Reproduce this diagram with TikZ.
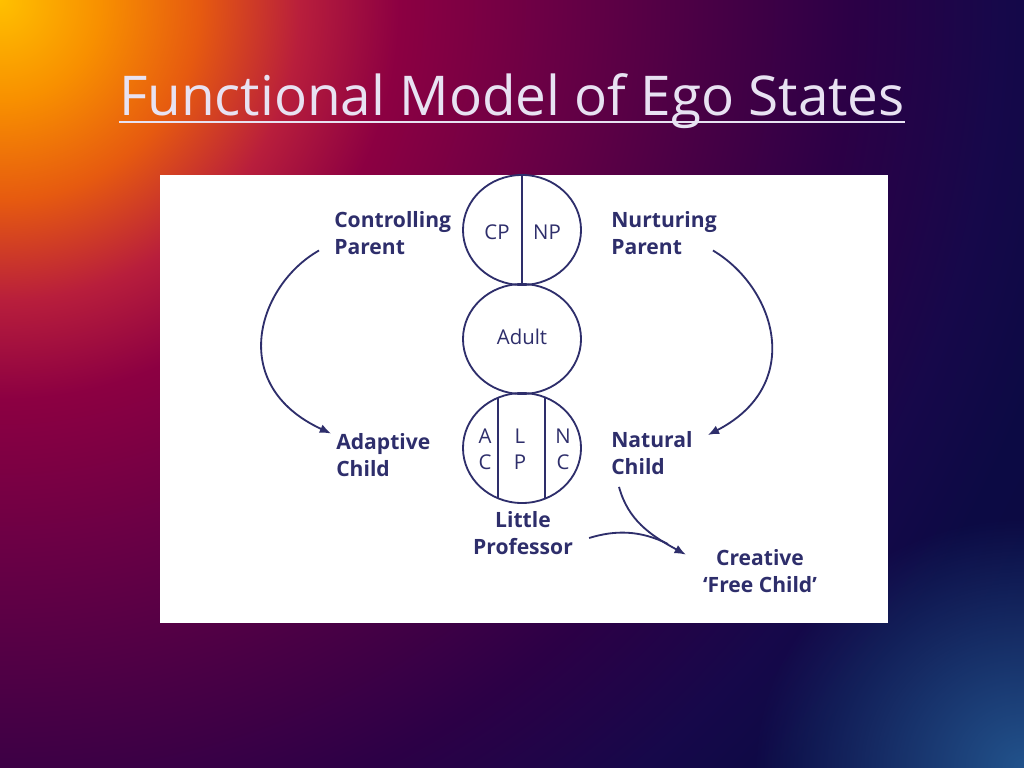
\documentclass[tikz,border=0pt]{standalone}
\usepackage{fontspec}
\setmainfont{Open Sans}
\usetikzlibrary{shapes.geometric,fadings,calc,arrows.meta}

\definecolor{ink}{HTML}{2E2E6B}
\definecolor{titlewhite}{HTML}{E8E2F2}
\definecolor{glowblue}{HTML}{22538C}
\definecolor{glowA}{HTML}{FFC000}
\definecolor{glowB}{HTML}{F89000}
\definecolor{glowC}{HTML}{E65A10}
\definecolor{glowD}{HTML}{B81E3C}
\definecolor{glowE}{HTML}{8C0042}
\definecolor{glowF}{HTML}{6A0045}
\definecolor{glowG}{HTML}{4A0045}
\definecolor{glowH}{HTML}{2C0046}
\definecolor{glowI}{HTML}{16084A}
\definecolor{glowJ}{HTML}{0C0A44}
\definecolor{glowK}{HTML}{0A0A40}

\pgfdeclareradialshading{slideglow}{\pgfpoint{0bp}{0bp}}{%
  color(0bp)=(glowA); color(71bp)=(glowB); color(142bp)=(glowC);
  color(213bp)=(glowD); color(283bp)=(glowE); color(390bp)=(glowF);
  color(496bp)=(glowG); color(602bp)=(glowH); color(709bp)=(glowI);
  color(780bp)=(glowJ); color(921bp)=(glowK)}

\tikzfading[name=cornerfade, inner color=transparent!0, outer color=transparent!100]

\tikzset{
  ego/.style={draw=ink, line width=1.3pt, ellipse, minimum width=2.95cm, minimum height=2.75cm, inner sep=0pt},
  tag/.style={text=ink, font=\fontsize{15}{19.2}\selectfont\bfseries, align=left, inner sep=0pt},
  part/.style={text=ink, font=\fontsize{14.5}{18.5}\selectfont, align=center, inner sep=0pt},
  flow/.style={draw=ink, line width=1.3pt, ->},
}

\begin{document}
\begin{tikzpicture}[x=0.025cm, y=-0.025cm, >={Latex[length=8pt,width=6.5pt]}]
	\useasboundingbox (0,0) rectangle (1024,768);

	% slide background
	\begin{scope}
		\clip (0,0) rectangle (1024,768);
		\node[inner sep=0pt] (bg) at (0,0) {\pgfuseshading{slideglow}};
		\fill[glowblue, path fading=cornerfade] (1024,768) ellipse (270 and 250);
	\end{scope}

	\node[text=titlewhite, font=\fontsize{39}{45}\selectfont, inner sep=0pt, anchor=base] (title) at (512,116) {Functional Model of Ego States};
	\draw[titlewhite, line width=1.4pt] ([yshift=-4.3pt]title.base west) -- ([yshift=-4.3pt]title.base east);

	\fill[white] (160,175) rectangle (888,623);

	% the three ego states
	\node[ego] (parent) at (522,230) {};
	\node[ego] (adult) at (522,339) {};
	\node[ego] (child) at (522,448) {};

	\draw[ink, line width=1.3pt] (parent.north) -- (parent.south);
	\draw[ink, line width=1.3pt] (498,398) -- (498,498);
	\draw[ink, line width=1.3pt] (545,398) -- (545,498);

	\node[part] (cp) at (497,232) {CP};
	\node[part] (np) at (547,232) {NP};
	\node[part] (ad) at (522,337) {Adult};
	\node[part] (ac) at (485,449) {A\\C};
	\node[part] (lp) at (520,449) {L\\P};
	\node[part] (nc) at (563,449) {N\\C};

	% labels round the circles
	\node[tag, anchor=west] (cparent) at (334,233.5) {Controlling\\Parent};
	\node[tag, anchor=west] (nparent) at (611,233.5) {Nurturing\\Parent};
	\node[tag, anchor=west] (achild) at (336,455.5) {Adaptive\\Child};
	\node[tag, anchor=west] (nchild) at (611,453) {Natural\\Child};
	\node[tag, align=center] (lprof) at (523,533.5) {Little\\Professor};
	\node[tag, align=center] (creative) at (760,571.5) {Creative\\‘Free Child’};

	\coordinate (meet) at ($(creative.north west)+(-17,5)$);

	\draw[flow] ($(cparent.west)+(-15,17)$) .. controls (258,285) and (226,385) .. ($(achild.west)+(-5,-22)$);
	\draw[flow] ($(nparent.east)+(-4,17)$) .. controls (776,288) and (805,385) .. ($(nchild.east)+(15,-18)$);
	\draw[flow] ($(nchild.south west)+(8,12)$) .. controls (628,520) and (650,535) .. (meet);
	\draw[ink, line width=1.3pt] ($(lprof.east)+(16,4.5)$) .. controls (615,530) and (640,530) .. (668,544);
\end{tikzpicture}
\end{document}
